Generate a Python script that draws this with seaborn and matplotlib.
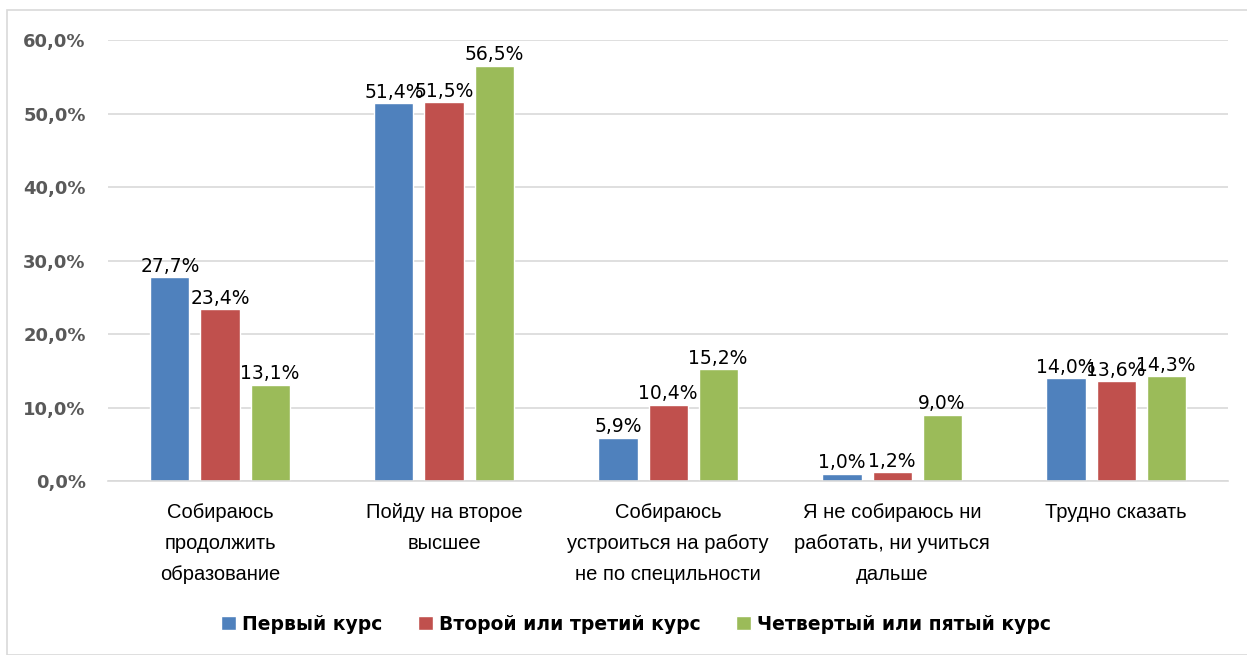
import pandas as pd
import matplotlib.pyplot as plt
import matplotlib.patches as mpatches
import seaborn as sns
from matplotlib.ticker import FuncFormatter

# data
categories = [
    "Собираюсь\nпродолжить\nобразование",
    "Пойду на второе\nвысшее",
    "Собираюсь\nустроиться на работу\nне по специльности",
    "Я не собираюсь ни\nработать, ни учиться\nдальше",
    "Трудно сказать",
]
groups = ["Первый курс", "Второй или третий курс", "Четвертый или пятый курс"]
first_course = [27.7, 51.4, 5.9, 1.0, 14.0]
second_third = [23.4, 51.5, 10.4, 1.2, 13.6]
fourth_fifth = [13.1, 56.5, 15.2, 9.0, 14.3]
colors = ["#4F81BD", "#C0504D", "#9BBB59"]

rows = []
for g, vals in zip(groups, [first_course, second_third, fourth_fifth]):
    for c, v in zip(categories, vals):
        rows.append({"Категория": c, "Группа": g, "Значение": v})
df = pd.DataFrame(rows)

sns.set_theme(style="white")
plt.rcParams["font.family"] = ["DejaVu Sans"]

fig = plt.figure(figsize=(12.47, 6.55), dpi=100)
ax = fig.add_axes([0.0866, 0.2656, 0.8982, 0.6733])

sns.barplot(
    data=df, x="Категория", y="Значение", hue="Группа",
    hue_order=groups, palette=colors, width=0.67, gap=0.22,
    saturation=1, ax=ax
)

ax.set_ylim(0, 60)
ax.set_yticks(range(0, 61, 10))
ax.yaxis.set_major_formatter(FuncFormatter(lambda v, p: f"{v:.1f}%".replace(".", ",")))
ax.grid(axis="y", color="#D9D9D9", linewidth=1.2)
ax.set_axisbelow(True)
ax.set_xlabel("")
ax.set_ylabel("")
for s in ["top", "left", "right"]:
    ax.spines[s].set_visible(False)
ax.spines["bottom"].set_color("#D9D9D9")
ax.spines["bottom"].set_linewidth(1.2)
ax.tick_params(axis="y", length=0, pad=16, labelsize=13, labelcolor="#595959")
for t in ax.get_yticklabels():
    t.set_fontweight("bold")
ax.tick_params(axis="x", length=0, pad=16, labelsize=14.5, labelcolor="black")
for t in ax.get_xticklabels():
    t.set_fontfamily("Liberation Sans")
    t.set_linespacing(1.78)

for cont in ax.containers:
    labels = [f"{b.get_height():.1f}%".replace(".", ",") for b in cont]
    ax.bar_label(cont, labels=labels, padding=1, fontsize=13.5, color="black")

sns.move_legend(
    ax, "center", bbox_to_anchor=(0.51, 0.047), bbox_transform=fig.transFigure,
    ncol=3, frameon=False, title=None, handlelength=0.8, handleheight=0.8,
    columnspacing=1.9, handletextpad=0.3, labelcolor="black",
    prop={"weight": "bold", "size": 13.5}
)

# light chart-area frame like the office chart
fig.patches.append(mpatches.Rectangle(
    (7 / 1247, 0), 1.0, 1 - 10 / 655, transform=fig.transFigure,
    fill=False, edgecolor="#D9D9D9", linewidth=1.2
))

fig.savefig("out.png", dpi=100)
